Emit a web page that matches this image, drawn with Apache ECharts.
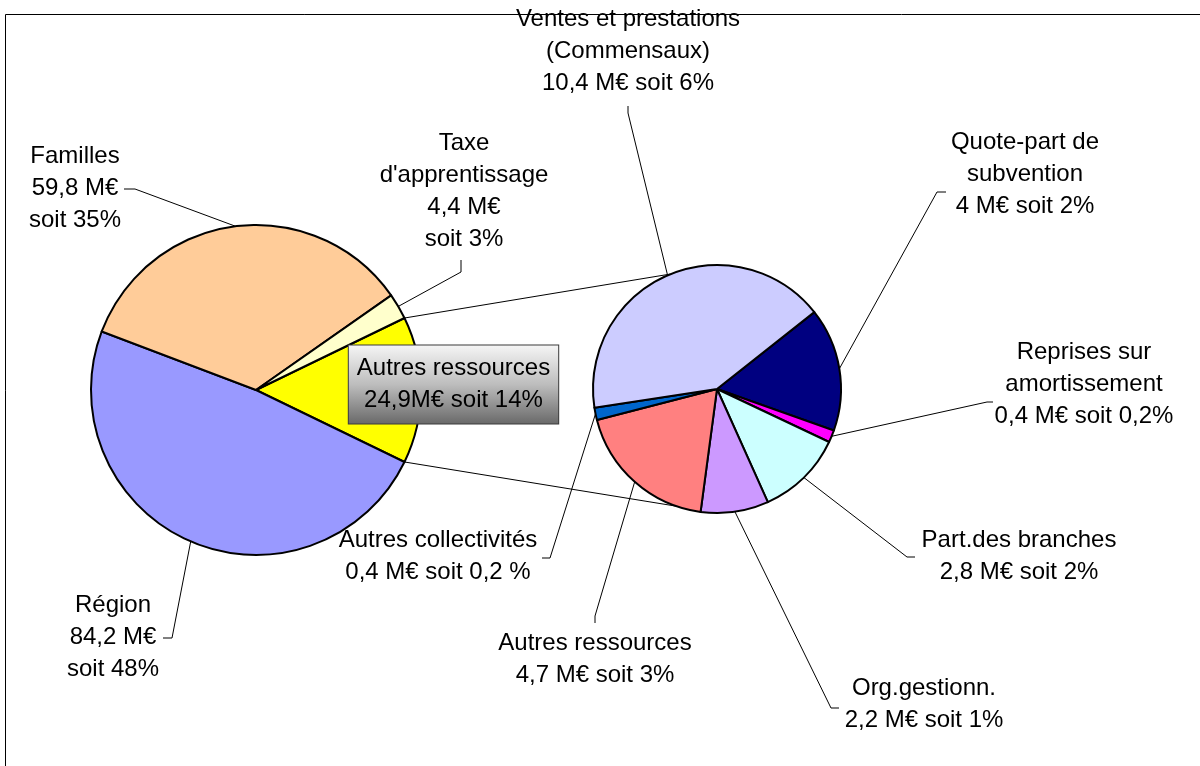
<!DOCTYPE html>
<html>
<head>
<meta charset="utf-8">
<script src="https://cdn.jsdelivr.net/npm/echarts@6/dist/echarts.min.js"></script>
<style>
  html, body { margin: 0; padding: 0; background: #fff; }
  #chart { width: 1200px; height: 766px; }
</style>
</head>
<body>
<div id="chart"></div>
<script>
// Ressources principales (M€), dans l'ordre de tracé à partir du secteur « Autres ressources »
const mainNames  = ['Autres ressources', 'Région', 'Familles', "Taxe\nd'apprentissage"];
const mainValues = [24.9, 84.2, 59.8, 4.4];
const mainShares = ['14%', '48%', '35%', '3%'];
const mainColors = ['#FFFF00', '#9999FF', '#FFCC99', '#FFFFCC'];

// Détail des autres ressources (M€)
const detailNames  = ['Quote-part de\nsubvention', 'Reprises sur\namortissement', 'Part.des branches',
                      'Org.gestionn.', 'Autres ressources', 'Autres collectivités',
                      'Ventes et prestations\n(Commensaux)'];
const detailValues = [4, 0.4, 2.8, 2.2, 4.7, 0.4, 10.4];
const detailShares = ['2%', '0,2%', '2%', '1%', '3%', '0,2 %', '6%'];
const detailColors = ['#000080', '#FF00FF', '#CCFFFF', '#CC99FF', '#FF8080', '#0066CC', '#CCCCFF'];

// Géométrie des deux camemberts
const LEFT  = { cx: 256, cy: 390, r: 165 };
const RIGHT = { cx: 717, cy: 389, r: 124, start: 38.3 };
const FONT = 'Liberation Sans, Arial, sans-serif';
const FS = 24, LH = 32;

const sum = a => a.reduce((s, v) => s + v, 0);
const fmt = v => Number.isInteger(v) ? String(v) : v.toFixed(1).replace('.', ',');

// the "other" slice is centred on the horizontal, facing the detail pie
const otherHalf = mainValues[0] / sum(mainValues) * 180;
LEFT.start = otherHalf;

// mid-angle edge point of each slice (ECharts angles: degrees, clockwise from startAngle)
function edgePoints(values, geo) {
  const total = sum(values);
  let a = geo.start;
  return values.map(v => {
    const span = v / total * 360;
    const mid = (a - span / 2) * Math.PI / 180;
    a -= span;
    return [geo.cx + geo.r * Math.cos(mid), geo.cy - geo.r * Math.sin(mid)];
  });
}
const mainEdges = edgePoints(mainValues, LEFT);
const detailEdges = edgePoints(detailValues, RIGHT);

// label anchor, leader elbow, leader end
const mainLabelPos = [
  { at: [453.5, 384.5] },
  { at: [113, 637],   elbow: [172, 638], end: [163, 638] },
  { at: [75, 188],    elbow: [135, 189], end: [124, 189] },
  { at: [464, 191.5], elbow: [461, 272], end: [461, 260] }
];
const detailLabelPos = [
  { at: [1025, 174.5], elbow: [937, 192], end: [946, 192] },
  { at: [1084, 384],   elbow: [987, 402], end: [993, 402] },
  { at: [1019, 556],   elbow: [907, 557], end: [915, 557] },
  { at: [924, 704],    elbow: [831, 708], end: [839, 708] },
  { at: [595, 659.5],  elbow: [595, 616], end: [595, 623] },
  { at: [438, 556.5],  elbow: [550, 558], end: [542, 558] },
  { at: [628, 51],     elbow: [628, 113], end: [628, 106] }
];

function layoutFor(pos, edges) {
  return function (p) {
    const L = pos[p.dataIndex];
    const out = { x: L.at[0], y: L.at[1], align: 'center', verticalAlign: 'middle' };
    if (L.elbow) out.labelLinePoints = [edges[p.dataIndex], L.elbow, L.end];
    return out;
  };
}

const mainData = mainNames.map((n, i) => {
  const item = { name: n, value: mainValues[i], itemStyle: { color: mainColors[i] } };
  if (i === 0) {
    item.label = {
      formatter: `${n}\n${fmt(mainValues[i])}M€ soit ${mainShares[i]}`,
      backgroundColor: new echarts.graphic.LinearGradient(0, 0, 0, 1, [
        { offset: 0, color: '#F6F6F6' },
        { offset: 0.5, color: '#BDBDBD' },
        { offset: 1, color: '#686868' }
      ]),
      borderColor: '#3a3a3a',
      borderWidth: 1,
      padding: [8, 8, 6, 8]
    };
    item.labelLine = { show: false };
  } else {
    item.label = { formatter: `${n}\n${fmt(mainValues[i])} M€\nsoit ${mainShares[i]}` };
  }
  return item;
});

const detailData = detailNames.map((n, i) => ({
  name: n,
  value: detailValues[i],
  itemStyle: { color: detailColors[i] },
  label: { formatter: `${n}\n${fmt(detailValues[i])} M€ soit ${detailShares[i]}` }
}));

const labelBase = {
  show: true,
  position: 'outside',
  color: '#000',
  fontFamily: FONT,
  fontSize: FS,
  lineHeight: LH,
  align: 'center'
};
const lineBase = { show: true, lineStyle: { color: '#000', width: 1 } };

// connector lines from the "other" slice to the detail pie
const rad = d => d * Math.PI / 180;
const leftTop = [LEFT.cx + LEFT.r * Math.cos(rad(otherHalf)), LEFT.cy - LEFT.r * Math.sin(rad(otherHalf))];
const leftBot = [LEFT.cx + LEFT.r * Math.cos(rad(otherHalf)), LEFT.cy + LEFT.r * Math.sin(rad(otherHalf))];
const rightTop = [RIGHT.cx + RIGHT.r * Math.cos(rad(112)), RIGHT.cy - RIGHT.r * Math.sin(rad(112))];
const rightBot = [RIGHT.cx + RIGHT.r * Math.cos(rad(109)), RIGHT.cy + RIGHT.r * Math.sin(rad(109))];

const chart = echarts.init(document.getElementById('chart'), null, { renderer: 'canvas' });
chart.setOption({
  animation: false,
  backgroundColor: '#fff',
  graphic: [
    { type: 'polyline', z: 0, shape: { points: [[5.5, 766], [5.5, 14.5], [1200, 14.5]] },
      style: { stroke: '#000', lineWidth: 1, fill: null } },
    { type: 'line', z: 0, shape: { x1: leftTop[0], y1: leftTop[1], x2: rightTop[0], y2: rightTop[1] },
      style: { stroke: '#000', lineWidth: 1 } },
    { type: 'line', z: 0, shape: { x1: leftBot[0], y1: leftBot[1], x2: rightBot[0], y2: rightBot[1] },
      style: { stroke: '#000', lineWidth: 1 } }
  ],
  series: [
    {
      type: 'pie',
      center: [LEFT.cx, LEFT.cy],
      radius: LEFT.r,
      startAngle: LEFT.start,
      clockwise: true,
      avoidLabelOverlap: false,
      itemStyle: { borderColor: '#000', borderWidth: 2 },
      emphasis: { disabled: true },
      label: labelBase,
      labelLine: lineBase,
      labelLayout: layoutFor(mainLabelPos, mainEdges),
      data: mainData
    },
    {
      type: 'pie',
      center: [RIGHT.cx, RIGHT.cy],
      radius: RIGHT.r,
      startAngle: RIGHT.start,
      clockwise: true,
      avoidLabelOverlap: false,
      itemStyle: { borderColor: '#000', borderWidth: 2 },
      emphasis: { disabled: true },
      label: labelBase,
      labelLine: lineBase,
      labelLayout: layoutFor(detailLabelPos, detailEdges),
      data: detailData
    }
  ]
});
</script>
</body>
</html>
